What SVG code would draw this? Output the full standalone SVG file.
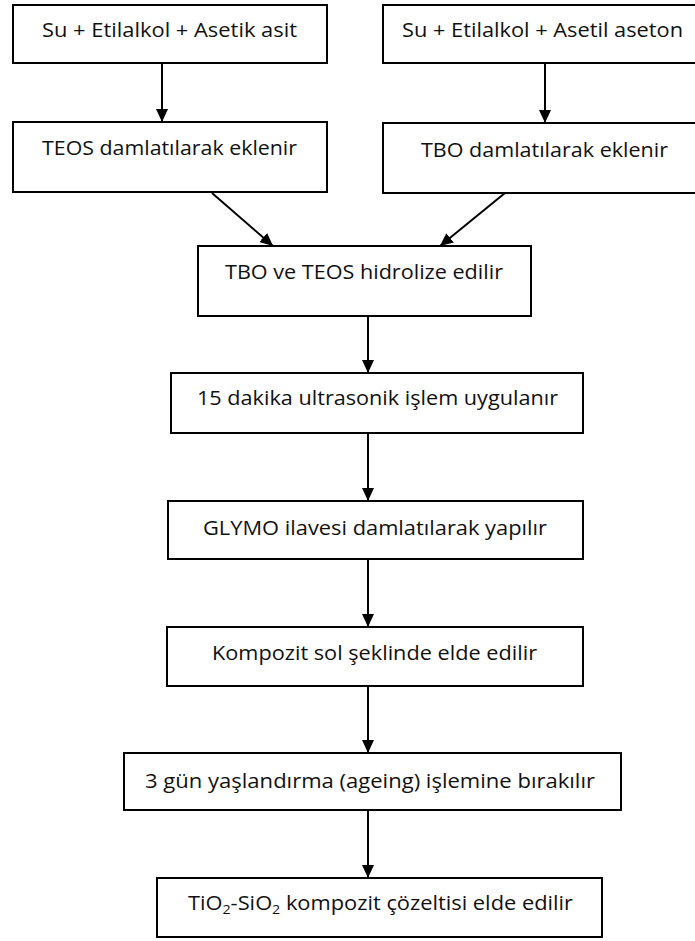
<svg xmlns="http://www.w3.org/2000/svg" width="695" height="941" viewBox="0 0 695 941">
<style>
.box{fill:#fff;stroke:#000;stroke-width:2}
.t{font-family:"Open Sans","Liberation Sans",sans-serif;font-size:20px;fill:#111}
.c{stroke:#000;stroke-width:2;fill:none;marker-end:url(#ah)}
</style>
<defs>
<marker id="ah" markerUnits="userSpaceOnUse" markerWidth="14" markerHeight="14" viewBox="0 0 14 14" refX="13" refY="7" orient="auto">
<path d="M0,1 L13,7 L0,13 Z" fill="#000"/>
</marker>
</defs>
<rect width="695" height="941" fill="#fff"/>
<g id="n1"><rect class="box" x="13" y="5" width="314" height="58"/><text class="t" x="42" y="37" textLength="255" lengthAdjust="spacingAndGlyphs">Su + Etilalkol + Asetik asit</text></g>
<g id="n2"><rect class="box" x="383" y="5" width="313" height="58"/><text class="t" x="402" y="37" textLength="281" lengthAdjust="spacingAndGlyphs">Su + Etilalkol + Asetil aseton</text></g>
<g id="n3"><rect class="box" x="13" y="122" width="314" height="70"/><text class="t" x="42" y="155" textLength="255" lengthAdjust="spacingAndGlyphs">TEOS damlatılarak eklenir</text></g>
<g id="n4"><rect class="box" x="383" y="123" width="313" height="70"/><text class="t" x="421" y="157" textLength="247" lengthAdjust="spacingAndGlyphs">TBO damlatılarak eklenir</text></g>
<g id="n5"><rect class="box" x="198" y="246" width="333" height="70"/><text class="t" x="225" y="279" textLength="278" lengthAdjust="spacingAndGlyphs">TBO ve TEOS hidrolize edilir</text></g>
<g id="n6"><rect class="box" x="171" y="373" width="412" height="60"/><text class="t" x="197" y="405" textLength="361" lengthAdjust="spacingAndGlyphs">15 dakika ultrasonik işlem uygulanır</text></g>
<g id="n7"><rect class="box" x="168" y="501" width="415" height="58"/><text class="t" x="203" y="535" textLength="344" lengthAdjust="spacingAndGlyphs">GLYMO ilavesi damlatılarak yapılır</text></g>
<g id="n8"><rect class="box" x="167" y="627" width="416" height="59"/><text class="t" x="212" y="660" textLength="325" lengthAdjust="spacingAndGlyphs">Kompozit sol şeklinde elde edilir</text></g>
<g id="n9"><rect class="box" x="124" y="753" width="497" height="57"/><text class="t" x="145" y="788" textLength="450" lengthAdjust="spacingAndGlyphs">3 gün yaşlandırma (ageing) işlemine bırakılır</text></g>
<g id="n10"><rect class="box" x="157" y="878" width="445" height="59"/><text class="t" x="188" y="910" textLength="385" lengthAdjust="spacingAndGlyphs">TiO<tspan font-size="13" dy="4">2</tspan><tspan dy="-4">-SiO</tspan><tspan font-size="13" dy="4">2</tspan><tspan dy="-4"> kompozit çözeltisi elde edilir</tspan></text></g>
<g id="connectors">
<line class="c" x1="162" y1="63" x2="162" y2="122"/>
<line class="c" x1="545" y1="63" x2="545" y2="123"/>
<line class="c" x1="212" y1="193" x2="273" y2="246"/>
<line class="c" x1="505" y1="193" x2="440" y2="246"/>
<line class="c" x1="368" y1="316" x2="368" y2="373"/>
<line class="c" x1="368" y1="433" x2="368" y2="501"/>
<line class="c" x1="368" y1="559" x2="368" y2="627"/>
<line class="c" x1="368" y1="686" x2="368" y2="753"/>
<line class="c" x1="368" y1="810" x2="368" y2="878"/>
</g>
</svg>
